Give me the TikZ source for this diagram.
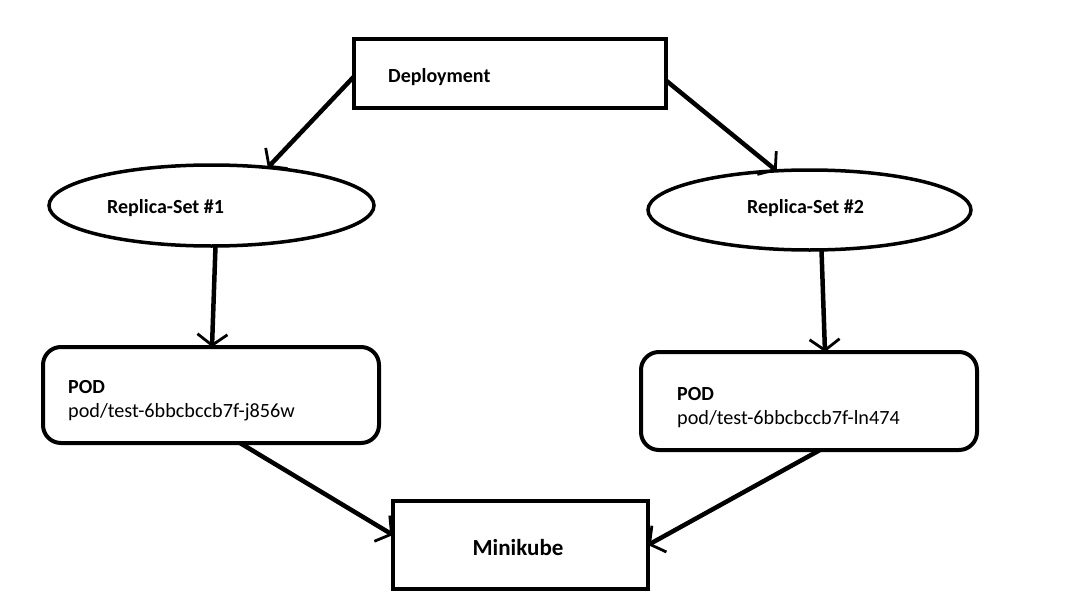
\documentclass[tikz,border=0pt]{standalone}
\usepackage{fontspec}
\setmainfont{Carlito}
\usetikzlibrary{arrows.meta,shapes.geometric}
\begin{document}
\begin{tikzpicture}[x=1pt,y=-1pt,
  box/.style={draw,line width=4pt,inner sep=0pt,outer sep=0pt},
  rbox/.style={box,rounded corners=18pt},
  oval/.style={draw,ellipse,line width=3.5pt,inner sep=0pt,outer sep=0pt},
  lbl/.style={anchor=base west,inner sep=0pt,font=\fontsize{20}{24}\selectfont\bfseries},
  txt/.style={anchor=base west,inner sep=0pt,font=\fontsize{20.2}{24}\selectfont},
  conn/.style={line width=4.5pt,-{Straight Barb[length=11pt,width=30pt,line width=2.8pt]}}]
\useasboundingbox (0,0) rectangle (1069,613);
\fill[white] (0,0) rectangle (1069,613);
% boxes
\node[box,minimum width=312pt,minimum height=69pt] (dep) at (510,73.5) {};
\node[oval,minimum width=325pt,minimum height=81pt] (rs1) at (211.5,205.5) {};
\node[oval,minimum width=323pt,minimum height=80pt] (rs2) at (809.5,210) {};
\node[rbox,minimum width=336pt,minimum height=96pt] (pod1) at (211,395) {};
\node[rbox,minimum width=336pt,minimum height=98pt] (pod2) at (809,401) {};
\node[box,minimum width=255pt,minimum height=88pt] (mk) at (520.5,545) {};
% labels
\node[lbl] (tdep) at (388,82) {Deployment};
\node[lbl] (trs1) at (107,213) {Replica-Set \#1};
\node[lbl] (trs2) at (747,213) {Replica-Set \#2};
\node[lbl] (tp1a) at (68,393) {POD};
\node[txt] (tp1b) at (68,417) {pod/test-6bbcbccb7f-j856w};
\node[lbl] (tp2a) at (677,400) {POD};
\node[txt] (tp2b) at (677,424) {pod/test-6bbcbccb7f-ln474};
\node[lbl,anchor=base,font=\fontsize{23}{27}\selectfont\bfseries] (tmk) at (518,555) {Minikube};
% connectors
\coordinate (d1) at ([yshift=-3pt]dep.west);
\coordinate (d2) at ([yshift=-7pt]dep.east);
\draw[conn] (d1) -- (rs1.34);
\draw[conn] (d2) -- (rs2.130);
\draw[conn] ([xshift=4pt]rs1.south) -- ([xshift=1pt]pod1.north);
\draw[conn] ([xshift=12pt]rs2.south) -- ([xshift=16pt]pod2.north);
\coordinate (p1) at ([xshift=29pt]pod1.south);
\coordinate (p2) at ([xshift=11pt]pod2.south);
\draw[conn] (p1) -- ([yshift=10pt]mk.west);
\draw[conn] (p2) -- ([yshift=0pt]mk.east);
\end{tikzpicture}
\end{document}
